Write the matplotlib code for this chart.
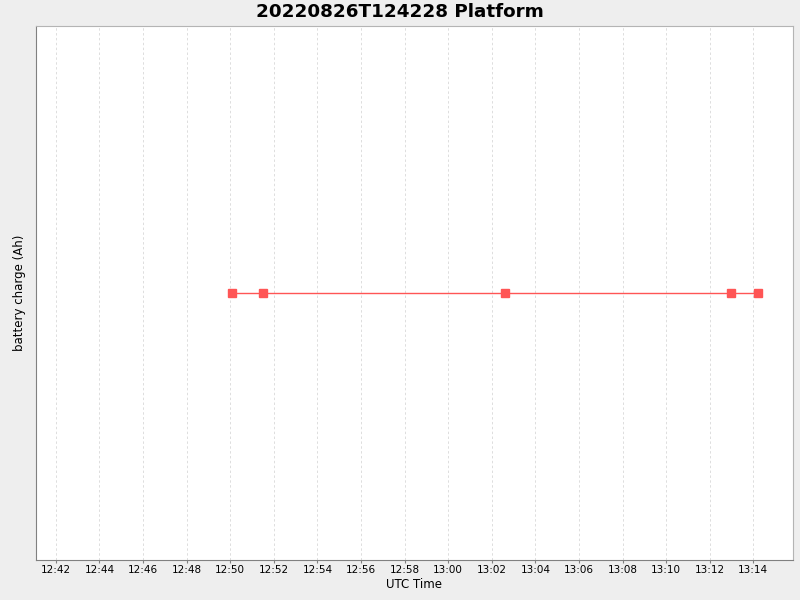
import matplotlib
matplotlib.use("Agg")
import matplotlib.pyplot as plt
import matplotlib.dates as mdates
from datetime import datetime

times = ["2022-08-26 12:50:04", "2022-08-26 12:51:30", "2022-08-26 13:02:36",
         "2022-08-26 13:12:58", "2022-08-26 13:14:12"]
charge = [0.0, 0.0, 0.0, 0.0, 0.0]
title = "20220826T124228 Platform"

t = [datetime.strptime(s, "%Y-%m-%d %H:%M:%S") for s in times]

fig = plt.figure(figsize=(8, 6), dpi=100, facecolor="#EEEEEE")
ax = fig.add_axes([35.5/800, 40/600, (792.5-35.5)/800, (560-26)/600])
ax.set_facecolor("white")
ax.plot(t, charge, color="#FF5555", lw=1.0, marker="s", ms=6, mec="#FF5555", mfc="#FF5555")

ax.set_xlim(datetime(2022, 8, 26, 12, 41, 4), datetime(2022, 8, 26, 13, 15, 48))
ax.set_ylim(-1, 1)
ax.xaxis.set_major_locator(mdates.MinuteLocator(byminute=range(0, 60, 2)))
ax.xaxis.set_major_formatter(mdates.DateFormatter("%H:%M"))
ax.tick_params(axis="x", labelsize=7.5, length=2, color="#808080", pad=1.5)
ax.set_yticks([])
ax.grid(axis="x", color="#DDDDDD", linestyle=(0, (2.5, 2.5)), lw=0.7)
for s in ["left", "bottom"]:
    ax.spines[s].set_color("#808080")
for s in ["top", "right"]:
    ax.spines[s].set_color("#B4B4B4")
ax.set_xlabel("UTC Time", fontsize=8.5, labelpad=2)
ax.set_ylabel("battery charge (Ah)", fontsize=8.5, labelpad=7)
fig.text(0.5, 1 - 12/600, title, ha="center", va="center", fontsize=13.2, fontweight="bold")
fig.savefig("out.png", dpi=100, facecolor=fig.get_facecolor())
